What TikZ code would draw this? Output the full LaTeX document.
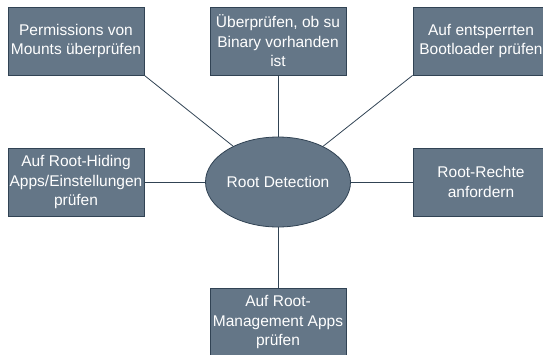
\documentclass[tikz,border=0pt]{standalone}
\usepackage{fontspec}
\setmainfont{Liberation Sans}
\usetikzlibrary{shapes.geometric}
\definecolor{boxfill}{HTML}{647687}
\definecolor{boxline}{HTML}{314354}
\begin{document}
\begin{tikzpicture}[x=1pt,y=-1pt,
  box/.style={draw=boxline,fill=boxfill,line width=0.8pt,minimum width=136pt,minimum height=68pt,inner sep=0pt,align=center,text=white,font=\fontsize{15.5}{19.5}\selectfont},
  ell/.style={ellipse,draw=boxline,fill=boxfill,line width=0.8pt,minimum width=136pt,minimum height=90pt,inner sep=0pt,align=center,text=white,font=\fontsize{15.5}{19.5}\selectfont},
  conn/.style={draw=boxline,line width=0.8pt}]
\useasboundingbox (0,0) rectangle (543,354);
\node[box] (b1) at (76,41) {Permissions von\\Mounts überprüfen};
\node[box] (b2) at (278,41) {Überprüfen, ob su\\Binary vorhanden\\ist};
\node[box] (b3) at (481,41) {Auf entsperrten\\Bootloader prüfen};
\node[box] (b4) at (76,182) {Auf Root-Hiding\\Apps/Einstellungen\\prüfen};
\node[box] (b5) at (481,182) {Root-Rechte\\anfordern};
\node[box] (b6) at (278,322) {Auf Root-\\Management Apps\\prüfen};
\node[ell] (c) at (278,182) {Root Detection};
\draw[conn] (b1.south east) -- (c);
\draw[conn] (b2.south) -- (c.north);
\draw[conn] (b3.south west) -- (c);
\draw[conn] (b4.east) -- (c.west);
\draw[conn] (b5.west) -- (c.east);
\draw[conn] (b6.north) -- (c.south);
\end{tikzpicture}
\end{document}
